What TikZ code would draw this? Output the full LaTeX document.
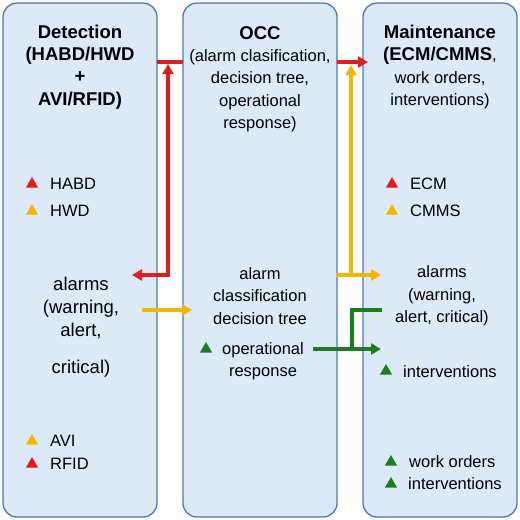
\documentclass[tikz,border=0pt]{standalone}
\usepackage{fontspec}
\setmainfont{Liberation Sans}
\usepackage{tikz}
\usetikzlibrary{arrows.meta,shapes.geometric}
\definecolor{panelfill}{HTML}{DCE9F6}
\definecolor{panelline}{HTML}{4878B8}
\definecolor{alred}{HTML}{DD1F1F}
\definecolor{alyellow}{HTML}{F2B705}
\definecolor{algreen}{HTML}{1D7D1D}
\tikzset{>={Triangle[length=10pt,width=11pt]},
every picture/.append style={
    line join=miter,
    x=1pt,y=-1pt
  },
panel/.style={draw=panelline,line width=1.3pt,fill=panelfill,rounded corners=14pt,
    minimum width=154pt,minimum height=514pt,inner sep=0pt},
txt/.style={font=\fontsize{16.5}{22.3}\selectfont,align=center,inner sep=0pt},
ttl/.style={font=\fontsize{18.5}{22.3}\selectfont\bfseries,align=center,inner sep=0pt},
item/.style={font=\fontsize{16.5}{20}\selectfont,anchor=west,inner sep=0pt},
tri/.style={regular polygon,regular polygon sides=3,inner sep=0pt,minimum size=14pt},
wire/.style={line width=3.5pt}
}

\begin{document}
\begin{tikzpicture}
    \useasboundingbox (0,0) rectangle (520,520);
    % the three columns
    \node [panel] (det) at (80,260) {};
    \node [panel] (occ) at (260,260) {};
    \node [panel] (mnt) at (440,260) {};
    % headings
    \node [ttl] (detttl) at (80,67) {Detection\\(HABD/HWD\\+\\AVI/RFID)};
    \node [txt] (occttl) at (260,79) {{\fontsize{18.5}{22.3}\selectfont\bfseries OCC}\\(alarm clasification,\\decision tree,\\operational\\response)};
    \node [txt] (mntttl) at (440,67) {{\fontsize{18.5}{22.3}\selectfont\bfseries Maintenance}\\{\fontsize{18.5}{22.3}\selectfont\bfseries(ECM/CMMS},\\work orders,\\interventions)};
    % detection
    \node [tri,fill=alred] (t1) at (32,184) {};
    \node [item] (habd) at (50,184) {HABD};
    \node [tri,fill=alyellow] (t2) at (32,211) {};
    \node [item] (hwd) at (50,211) {HWD};
    \node [txt,font=\fontsize{18.5}{23}\selectfont] (detalarm) at (81,327) {alarms\\(warning,\\alert,\\[14pt]critical)};
    \node [tri,fill=alyellow] (t3) at (32,441) {};
    \node [item] (avi) at (50,441) {AVI};
    \node [tri,fill=alred] (t4) at (32,464) {};
    \node [item] (rfid) at (50,464) {RFID};
    % occ
    \node [txt] (occalarm) at (260,296) {alarm\\classification\\decision tree};
    \node [tri,fill=algreen] (t5) at (206,349) {};
    \node [txt] (occresp) at (263,361) {operational\\response};
    % maintenance
    \node [tri,fill=alred] (t6) at (392,184) {};
    \node [item] (ecm) at (410,184) {ECM};
    \node [tri,fill=alyellow] (t7) at (392,211) {};
    \node [item] (cmms) at (410,211) {CMMS};
    \node [txt] (mntalarm) at (442,296) {alarms\\(warning,\\alert, critical)};
    \node [tri,fill=algreen] (t8) at (386,371) {};
    \node [item] (interv) at (403,372) {interventions};
    \node [tri,fill=algreen] (t9) at (391,462) {};
    \node [item] (wo) at (409,462) {work orders};
    \node [tri,fill=algreen] (t10) at (391,484) {};
    \node [item] (interv2) at (408,484) {interventions};
    % connector ends
    \coordinate (r1) at (132,275);
    \coordinate (r2) at (168,64);
    \coordinate (r3) at (157,62);
    \coordinate (r4) at (183,62);
    \coordinate (r5) at (337,62);
    \coordinate (r6) at (368,62);
    \coordinate (y1) at (142,310);
    \coordinate (y2) at (192,310);
    \coordinate (y3) at (336,275);
    \coordinate (y4) at (381,275);
    \coordinate (y5) at (351,275);
    \coordinate (y6) at (351,65);
    \coordinate (g1) at (313,349);
    \coordinate (g2) at (381,349);
    \coordinate (g3) at (352,349);
    \coordinate (g4) at (382,310);
    % red feedback
    \draw [wire,alred,<->] (r1) -| (r2);
    \draw [wire,alred] (r3) -- (r4);
    \draw [wire,alred,->] (r5) -- (r6);
    % yellow alarms
    \draw [wire,alyellow,->] (y1) -- (y2);
    \draw [wire,alyellow,->] (y3) -- (y4);
    \draw [wire,alyellow,->] (y5) -- (y6);
    % green response
    \draw [wire,algreen,->] (g1) -- (g2);
    \draw [wire,algreen] (g3) |- (g4);
\end{tikzpicture}
\end{document}
